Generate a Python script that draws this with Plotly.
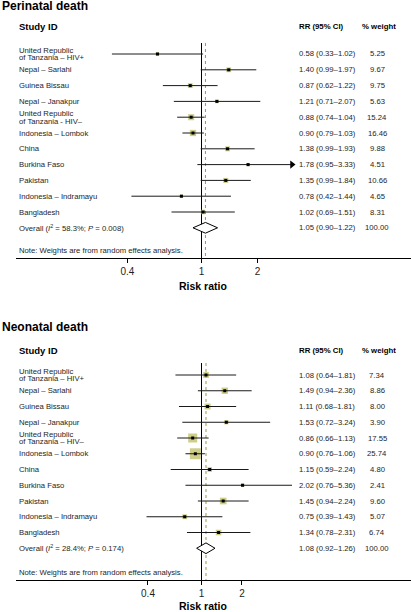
import math
import plotly.graph_objects as go

# ---------------- data ----------------
peri_titles = "Perinatal death"
neo_titles = "Neonatal death"

peri_studies = ["United Republic<br>of Tanzania – HIV+", "Nepal – Sarlahi", "Guinea Bissau",
                "Nepal – Janakpur", "United Republic<br>of Tanzania - HIV–", "Indonesia – Lombok",
                "China", "Burkina Faso", "Pakistan", "Indonesia – Indramayu", "Bangladesh"]
peri_rr = [0.58, 1.40, 0.87, 1.21, 0.88, 0.90, 1.38, 1.78, 1.35, 0.78, 1.02]
peri_lo = [0.33, 0.99, 0.62, 0.71, 0.74, 0.79, 0.99, 0.95, 0.99, 0.42, 0.69]
peri_hi = [1.02, 1.97, 1.22, 2.07, 1.04, 1.03, 1.93, 3.33, 1.84, 1.44, 1.51]
peri_w = [5.25, 9.67, 9.75, 5.63, 15.24, 16.46, 9.88, 4.51, 10.66, 4.65, 8.31]
peri_overall = [1.05, 0.90, 1.22]
peri_overall_w = 100.00
peri_i2 = "58.3%"
peri_p = "0.008"

neo_studies = ["United Republic<br>of Tanzania – HIV+", "Nepal – Sarlahi", "Guinea Bissau",
               "Nepal – Janakpur", "United Republic<br>of Tanzania – HIV–", "Indonesia – Lombok",
               "China", "Burkina Faso", "Pakistan", "Indonesia – Indramayu", "Bangladesh"]
neo_rr = [1.08, 1.49, 1.11, 1.53, 0.86, 0.90, 1.15, 2.02, 1.45, 0.75, 1.34]
neo_lo = [0.64, 0.94, 0.68, 0.72, 0.66, 0.76, 0.59, 0.76, 0.94, 0.39, 0.78]
neo_hi = [1.81, 2.36, 1.81, 3.24, 1.13, 1.06, 2.24, 5.36, 2.24, 1.43, 2.31]
neo_w = [7.34, 8.86, 8.00, 3.90, 17.55, 25.74, 4.80, 2.41, 9.60, 5.07, 6.74]
neo_overall = [1.08, 0.92, 1.26]
neo_overall_w = 100.00
neo_i2 = "28.4%"
neo_p = "0.174"

tick_vals = [0.4, 1, 2]
tick_text = ["0.4", "1", "2"]

# ---------------- layout constants ----------------
W, H = 411, 612
FONT = "Liberation Sans, Arial, sans-serif"
TXT = "#1e1e1e"
BOX = "#b9b955"
LINE = "#1a1a1a"
SMALL = 7.7


def py(p):
    return 1 - p / H


def px(p):
    return p / W


panels = [
    dict(title=peri_titles, studies=peri_studies, rr=peri_rr, lo=peri_lo, hi=peri_hi, w=peri_w,
         ov=peri_overall, ovw=peri_overall_w, i2=peri_i2, p=peri_p,
         row0=54, pitch=15.8, top=43, axis=258, title_y=6, head_y=27, note_y=250,
         xlabel_y=286, ppl=80.8, box_k=1.55, arrow=True),
    dict(title=neo_titles, studies=neo_studies, rr=neo_rr, lo=neo_lo, hi=neo_hi, w=neo_w,
         ov=neo_overall, ovw=neo_overall_w, i2=neo_i2, p=neo_p,
         row0=375, pitch=15.75, top=363, axis=580, title_y=327, head_y=350, note_y=572,
         xlabel_y=606, ppl=58.4, box_k=2.15, arrow=False),
]

ONE_PX = 201.5      # pixel x of RR = 1
X_LEFT = 16         # axis start
CLIP_PX = 292       # CI lines clipped here
LABEL_X = 17
RR_X = 297
W_X = 377

fig = go.Figure()
annotations = []
layout_axes = {}

for k, P in enumerate(panels):
    sfx = "" if k == 0 else str(k + 1)
    xa, ya = "x" + sfx, "y" + sfx
    n = len(P["studies"])
    rows = list(range(n))
    ov_row = n
    ymax = (P["axis"] - P["row0"]) / P["pitch"]
    ymin = (P["top"] - P["row0"]) / P["pitch"]
    lnr = math.log(10) * P["ppl"]
    xr = [(X_LEFT - ONE_PX) / lnr, (W - ONE_PX) / lnr]
    clip = 10 ** ((CLIP_PX - ONE_PX) / lnr)

    layout_axes["xaxis" + sfx] = dict(
        type="log", range=xr, domain=[px(X_LEFT), 1], anchor=ya,
        showline=True, linecolor="black", linewidth=1, ticks="outside", ticklen=4,
        tickcolor="black", tickvals=tick_vals, ticktext=tick_text, showgrid=False,
        zeroline=False, tickfont=dict(family=FONT, size=10, color=TXT), fixedrange=True)
    layout_axes["yaxis" + sfx] = dict(
        range=[ymax, ymin], domain=[py(P["axis"]), py(P["top"])], anchor=xa,
        visible=False, fixedrange=True)

    # reference line at 1 and dotted line at overall estimate
    fig.add_trace(go.Scatter(x=[1, 1], y=[ymin, ymax], mode="lines", xaxis=xa, yaxis=ya,
                             line=dict(color="black", width=1), hoverinfo="skip", showlegend=False))
    fig.add_trace(go.Scatter(x=[P["ov"][0]] * 2, y=[ymin, ymax], mode="lines", xaxis=xa, yaxis=ya,
                             line=dict(color="#9a9a48", width=1, dash="dot"), hoverinfo="skip",
                             showlegend=False))

    # weight boxes
    fig.add_trace(go.Scatter(x=P["rr"], y=rows, mode="markers", xaxis=xa, yaxis=ya,
                             marker=dict(symbol="square", color=BOX,
                                         size=[P["box_k"] * math.sqrt(v) for v in P["w"]],
                                         line=dict(width=0)),
                             hoverinfo="skip", showlegend=False))
    # CI lines
    lx, ly = [], []
    for i in rows:
        lx += [P["lo"][i], min(P["hi"][i], clip), None]
        ly += [i, i, None]
    fig.add_trace(go.Scatter(x=lx, y=ly, mode="lines", xaxis=xa, yaxis=ya,
                             line=dict(color=LINE, width=1), hoverinfo="skip", showlegend=False))
    if P["arrow"]:
        ax_ = [clip for i in rows if P["hi"][i] > clip]
        ay_ = [i for i in rows if P["hi"][i] > clip]
        fig.add_trace(go.Scatter(x=ax_, y=ay_, mode="markers", xaxis=xa, yaxis=ya,
                                 marker=dict(symbol="triangle-right", size=7, color="black",
                                             line=dict(width=0)),
                                 hoverinfo="skip", showlegend=False))
    # center dots
    fig.add_trace(go.Scatter(x=P["rr"], y=rows, mode="markers", xaxis=xa, yaxis=ya,
                             marker=dict(symbol="square", color="black", size=3, line=dict(width=0)),
                             hoverinfo="skip", showlegend=False))
    # overall diamond
    est, dlo, dhi = P["ov"]
    h = 0.34
    fig.add_trace(go.Scatter(x=[dlo, est, dhi, est, dlo], y=[ov_row, ov_row - h, ov_row, ov_row + h, ov_row],
                             mode="lines", fill="toself", fillcolor="white", xaxis=xa, yaxis=ya,
                             line=dict(color="black", width=1), hoverinfo="skip", showlegend=False))

    # ---- text ----
    f8 = dict(family=FONT, size=SMALL, color=TXT)
    for i, s in enumerate(P["studies"]):
        parts = s.split("<br>")
        if len(parts) == 1:
            annotations.append(dict(text=s, xref="paper", yref=ya, x=px(LABEL_X), y=i,
                                    xanchor="left", yanchor="middle", showarrow=False, font=f8))
        else:
            off = 0.25
            for j, part in enumerate(parts):
                annotations.append(dict(text=part, xref="paper", yref=ya, x=px(LABEL_X),
                                        y=i + (j - 0.5) * 2 * off, xanchor="left", yanchor="middle",
                                        showarrow=False, font=f8))
        annotations.append(dict(text=f"{P['rr'][i]:.2f} ({P['lo'][i]:.2f}–{P['hi'][i]:.2f})",
                                xref="paper", yref=ya, x=px(RR_X), y=i, xanchor="left",
                                yanchor="middle", showarrow=False, font=f8))
        annotations.append(dict(text=f"{P['w'][i]:.2f}", xref="paper", yref=ya, x=px(W_X), y=i,
                                xanchor="center", yanchor="middle", showarrow=False, font=f8))
    annotations.append(dict(text=f"Overall (<i>I</i><sup>2</sup> = {P['i2']}; <i>P</i> = {P['p']})",
                            xref="paper", yref=ya, x=px(LABEL_X), y=ov_row, xanchor="left",
                            yanchor="middle", showarrow=False, font=f8))
    annotations.append(dict(text=f"{est:.2f} ({dlo:.2f}–{dhi:.2f})", xref="paper", yref=ya,
                            x=px(RR_X), y=ov_row, xanchor="left", yanchor="middle",
                            showarrow=False, font=f8))
    annotations.append(dict(text=f"{P['ovw']:.2f}", xref="paper", yref=ya, x=px(W_X), y=ov_row,
                            xanchor="center", yanchor="middle", showarrow=False, font=f8))
    annotations.append(dict(text="Note: Weights are from random effects analysis.", xref="paper",
                            yref="paper", x=px(LABEL_X), y=py(P["note_y"]), xanchor="left",
                            yanchor="middle", showarrow=False, font=f8))
    # headers
    annotations.append(dict(text="<b>Study ID</b>", xref="paper", yref="paper", x=px(LABEL_X),
                            y=py(P["head_y"]), xanchor="left", yanchor="middle", showarrow=False,
                            font=dict(family=FONT, size=9.5, color="black")))
    hs = dict(family=FONT, size=7.8, color="black")
    annotations.append(dict(text="<b>RR (95% CI)</b>", xref="paper", yref="paper", x=px(RR_X),
                            y=py(P["head_y"]), xanchor="left", yanchor="middle", showarrow=False,
                            font=hs))
    annotations.append(dict(text="<b>% weight</b>", xref="paper", yref="paper", x=px(W_X + 2),
                            y=py(P["head_y"]), xanchor="center", yanchor="middle", showarrow=False,
                            font=hs))
    annotations.append(dict(text=f"<b>{P['title']}</b>", xref="paper", yref="paper", x=0,
                            y=py(P["title_y"]), xanchor="left", yanchor="middle", showarrow=False,
                            font=dict(family=FONT, size=12, color="black")))
    annotations.append(dict(text="<b>Risk ratio</b>", xref="paper", yref="paper", x=px(ONE_PX + 1),
                            y=py(P["xlabel_y"]), xanchor="center", yanchor="middle", showarrow=False,
                            font=dict(family=FONT, size=10.5, color="black")))

fig.update_layout(width=W, height=H, margin=dict(l=0, r=0, t=0, b=0),
                  paper_bgcolor="white", plot_bgcolor="white", showlegend=False,
                  annotations=annotations, **layout_axes)

fig.write_html("out.html", config={"displayModeBar": False},
               post_script="document.body.style.margin='0';document.body.style.overflow='hidden';")
